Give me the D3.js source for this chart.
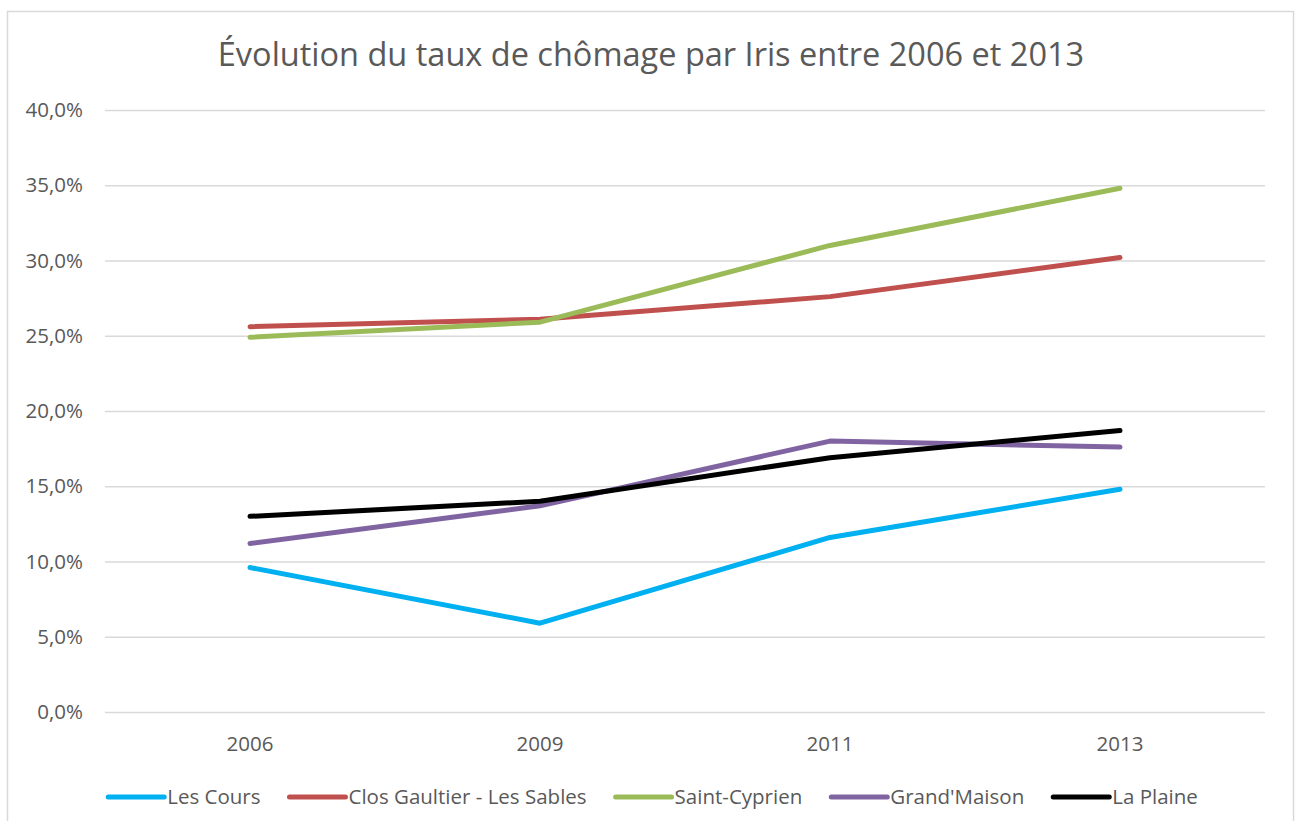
<!DOCTYPE html>
<html>
<head>
<meta charset="utf-8">
<script src="https://cdn.jsdelivr.net/npm/d3@7"></script>
<style>
  html, body { margin: 0; padding: 0; background: #ffffff; }
  svg { display: block; font-family: "Open Sans", "Liberation Sans", sans-serif; }
</style>
</head>
<body>
<svg id="chart" width="1298" height="821"></svg>
<script>
// Années (axe des catégories)
const years = ["2006", "2009", "2011", "2013"];

// Taux de chômage par Iris (en %)
const lesCours      = [9.6, 5.9, 11.6, 14.8];
const closGaultier  = [25.6, 26.1, 27.6, 30.2];
const saintCyprien  = [24.9, 25.9, 31.0, 34.8];
const grandMaison   = [11.2, 13.7, 18.0, 17.6];
const laPlaine      = [13.0, 14.0, 16.9, 18.7];

const seriesNames  = ["Les Cours", "Clos Gaultier - Les Sables", "Saint-Cyprien", "Grand'Maison", "La Plaine"];
const seriesValues = [lesCours, closGaultier, saintCyprien, grandMaison, laPlaine];
const seriesColors = ["#00B0F0", "#C0504D", "#9BBB59", "#8064A2", "#000000"];

const yTicks = [0, 5, 10, 15, 20, 25, 30, 35, 40];
const title = "Évolution du taux de chômage par Iris entre 2006 et 2013";

const svg = d3.select("#chart");
const textColor = "#595959";

// Cadre du graphique
svg.append("rect")
  .attr("x", 7.5).attr("y", 11.5)
  .attr("width", 1286).attr("height", 830)
  .attr("fill", "#ffffff")
  .attr("stroke", "#d9d9d9")
  .attr("stroke-width", 1.5);

const plot = { left: 105, right: 1265, top: 110, bottom: 712 };

const x = d3.scaleBand().domain(years).range([plot.left, plot.right]);
const y = d3.scaleLinear().domain([0, 40]).range([plot.bottom, plot.top]);

// Titre
svg.append("text")
  .attr("x", 651).attr("y", 66)
  .attr("text-anchor", "middle")
  .attr("font-size", 32.5)
  .attr("fill", textColor)
  .text(title);

// Quadrillage horizontal + étiquettes de l'axe Y
const fmt = v => d3.format(".1f")(v).replace(".", ",") + "%";
const yAxis = d3.axisLeft(y).tickValues(yTicks)
  .tickSize(-(plot.right - plot.left)).tickPadding(22).tickFormat(fmt);
const gy = svg.append("g").attr("transform", `translate(${plot.left},0)`).call(yAxis);
gy.select(".domain").remove();
gy.selectAll(".tick line").attr("stroke", "#d9d9d9").attr("stroke-width", 1.5);
gy.selectAll(".tick text")
  .attr("fill", textColor).attr("font-size", 20.5)
  .attr("font-family", "\"Open Sans\", sans-serif");

// Axe X (libellés uniquement)
const xAxis = d3.axisBottom(x).tickSize(0).tickPadding(24);
const gx = svg.append("g").attr("transform", `translate(0,${plot.bottom})`).call(xAxis);
gx.select(".domain").remove();
gx.selectAll(".tick text")
  .attr("fill", textColor).attr("font-size", 20.5)
  .attr("font-family", "\"Open Sans\", sans-serif");

// Courbes
const line = d3.line()
  .x((d, i) => x(years[i]) + x.bandwidth() / 2)
  .y(d => y(d));

svg.append("g").selectAll("path")
  .data(seriesValues)
  .join("path")
  .attr("d", line)
  .attr("fill", "none")
  .attr("stroke", (d, i) => seriesColors[i])
  .attr("stroke-width", 5)
  .attr("stroke-linecap", "round")
  .attr("stroke-linejoin", "round");

// Légende
const legend = svg.append("g");
const swatchLen = 56, textGap = 3, itemGap = 29, legendY = 797;
const items = seriesNames.map((name, i) => {
  const g = legend.append("g");
  g.append("line")
    .attr("x1", 0).attr("x2", swatchLen)
    .attr("y1", 0).attr("y2", 0)
    .attr("stroke", seriesColors[i])
    .attr("stroke-width", 5)
    .attr("stroke-linecap", "round");
  const t = g.append("text")
    .attr("x", swatchLen + textGap).attr("y", 0)
    .attr("dy", "0.35em")
    .attr("font-size", 20.5)
    .attr("fill", textColor)
    .text(name);
  return { g, w: swatchLen + textGap + t.node().getComputedTextLength() };
});
const total = d3.sum(items, d => d.w) + itemGap * (items.length - 1);
let cx = 653 - total / 2;
items.forEach(it => {
  it.g.attr("transform", `translate(${cx},${legendY})`);
  cx += it.w + itemGap;
});
</script>
</body>
</html>
